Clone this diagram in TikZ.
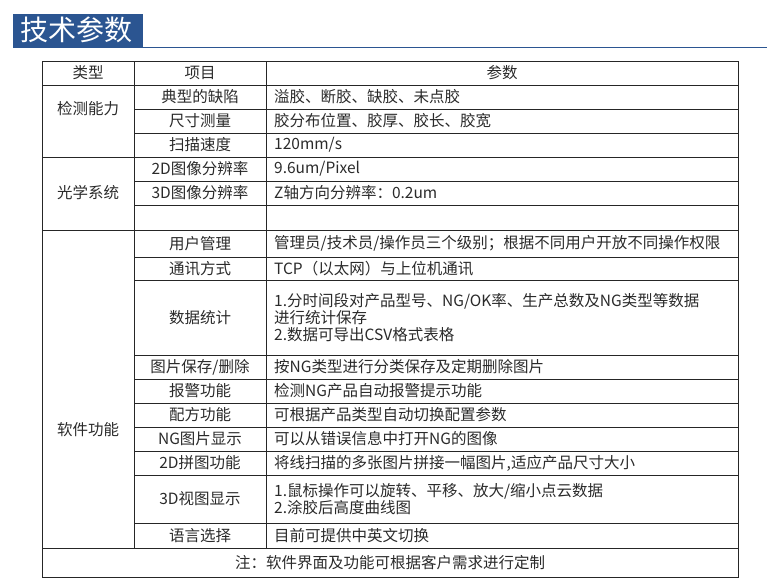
\documentclass[tikz,border=0pt]{standalone}
\usepackage{fontspec}
\setmainfont{Noto Sans CJK SC}
\definecolor{hdr}{HTML}{2B5591}
\definecolor{txt}{HTML}{2A2A2A}
\begin{document}
\begin{tikzpicture}[x=1pt,y=-1pt,
  cell/.style={font=\fontsize{15.5}{17}\selectfont,text=txt,inner sep=0pt},
  lft/.style={cell,anchor=west,align=left},
  grid/.style={draw=black!85,line width=1pt}]
\useasboundingbox (0,0) rectangle (767,582);
\fill[hdr] (13,14) rectangle (143,48);
\node[text=white,font=\fontsize{28}{30}\selectfont,inner sep=0pt] (title) at (76,30) {技术参数};
\draw[hdr,line width=0.8pt] (13,47.5) -- (767,47.5);
\draw[grid] (42,61) rectangle (738,577);
\draw[grid] (134,61) -- (134,548);
\draw[grid] (266,61) -- (266,548);
\foreach \y in {85,157,230,548} \draw[grid] (42,\y) -- (738,\y);
\foreach \y in {109,133,181,205,257,280,355,379,403,427,451,475,523} \draw[grid] (134,\y) -- (738,\y);
\node[cell] (h1) at (88,73) {类型};
\node[cell] (h2) at (200,73) {项目};
\node[cell] (h3) at (502,73) {参数};
\node[cell] (g1) at (88,109) {检测能力};
\node[cell] (g2) at (88,193) {光学系统};
\node[cell] (g3) at (88,430) {软件功能};
\foreach \y/\t in {97/典型的缺陷,121/尺寸测量,145/扫描速度,169/2D图像分辨率,193/3D图像分辨率,243.5/用户管理,268.5/通讯方式,317.5/数据统计,367/{图片保存/删除},391/报警功能,415/配方功能,439/NG图片显示,463/2D拼图功能,499/3D视图显示,535.5/语言选择}
  \node[cell] at (200,\y) {\t};
\node[lft] (p1) at (274,97) {溢胶、断胶、缺胶、未点胶};
\node[lft] (p2) at (274,121) {胶分布位置、胶厚、胶长、胶宽};
\node[lft] (p3) at (274,145) {120mm/s};
\node[lft] (p4) at (274,169) {9.6um/Pixel};
\node[lft] (p5) at (274,193) {Z轴方向分辨率：0.2um};
\node[lft] (p6) at (274,243.5) {管理员/技术员/操作员三个级别；根据不同用户开放不同操作权限};
\node[lft] (p7) at (274,268.5) {TCP（以太网）与上位机通讯};
\node[lft] (p8) at (274,317.5) {1.分时间段对产品型号、NG/OK率、生产总数及NG类型等数据\\进行统计保存\\2.数据可导出CSV格式表格};
\node[lft] (p9) at (274,367) {按NG类型进行分类保存及定期删除图片};
\node[lft] (p10) at (274,391) {检测NG产品自动报警提示功能};
\node[lft] (p11) at (274,415) {可根据产品类型自动切换配置参数};
\node[lft] (p12) at (274,439) {可以从错误信息中打开NG的图像};
\node[lft] (p13) at (274,463) {将线扫描的多张图片拼接一幅图片,适应产品尺寸大小};
\node[lft] (p14) at (274,499) {1.鼠标操作可以旋转、平移、放大/缩小点云数据\\2.涂胶后高度曲线图};
\node[lft] (p15) at (274,535.5) {目前可提供中英文切换};
\node[cell] (note) at (390,562.5) {注：软件界面及功能可根据客户需求进行定制};
\end{tikzpicture}
\end{document}
